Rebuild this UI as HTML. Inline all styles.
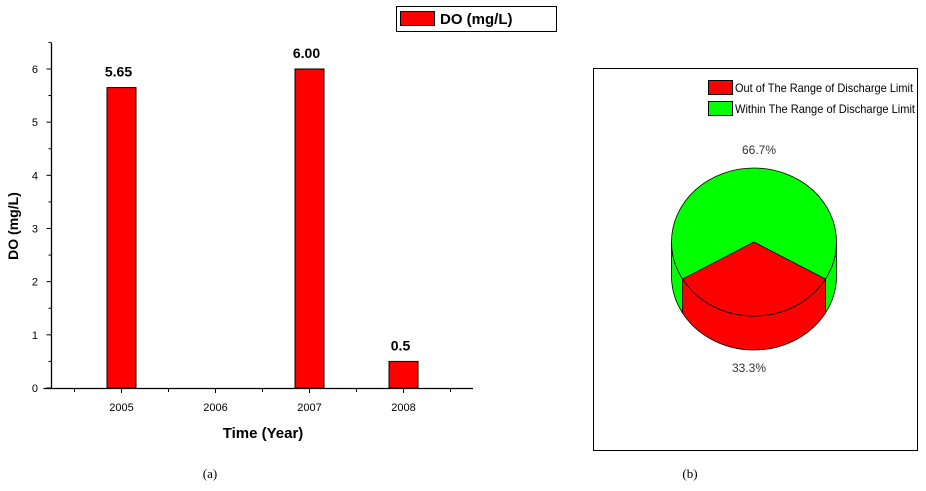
<!DOCTYPE html>
<html><head><meta charset="utf-8"><style>
body{margin:0;background:#fff;width:926px;height:486px;overflow:hidden}
text{font-family:"Liberation Sans",sans-serif}
</style></head><body>
<svg id="s" width="926" height="486">
<g>
<rect x="396.5" y="6.5" width="160" height="25" fill="#fff" stroke="#000"/>
<rect x="400.5" y="11.5" width="34" height="14" fill="#f00" stroke="#000"/>
<text x="440" y="24" font-size="15" font-weight="bold">DO (mg/L)</text>
</g>
<g id="bar"></g>
<text x="18" y="226" font-size="14" font-weight="bold" text-anchor="middle" transform="rotate(-90 18 226)">DO (mg/L)</text>
<text x="263" y="438" font-size="15" font-weight="bold" text-anchor="middle">Time (Year)</text>
<text x="210" y="478" font-size="13" style="font-family:'Liberation Serif',serif" text-anchor="middle">(a)</text>
<text x="690" y="478" font-size="13" style="font-family:'Liberation Serif',serif" text-anchor="middle">(b)</text>
<rect x="593.5" y="68.5" width="324" height="382" fill="none" stroke="#000"/>
<g>
<rect x="708.5" y="80.5" width="24" height="14" fill="#f00" stroke="#000"/>
<text x="735" y="92" font-size="12" textLength="178" lengthAdjust="spacingAndGlyphs">Out of The Range of Discharge Limit</text>
<rect x="708.5" y="101.5" width="24" height="14" fill="#0f0" stroke="#000"/>
<text x="735" y="113" font-size="12" textLength="180" lengthAdjust="spacingAndGlyphs">Within The Range of Discharge Limit</text>
</g>
<g id="pie"></g>
</svg>
<script>
const categories=["2005","2006","2007","2008"];
const values=[5.65,null,6.00,0.5];
const valueLabels=["5.65","","6.00","0.5"];
const yTicks=[0,1,2,3,4,5,6];
const pieLabels=["Out of The Range of Discharge Limit","Within The Range of Discharge Limit"];
const pieValues=[33.3,66.7];
const pieText=["33.3%","66.7%"];
const NS="http://www.w3.org/2000/svg";
function mk(p,t,a){const e=document.createElementNS(NS,t);for(const k in a)e.setAttribute(k,a[k]);p.appendChild(e);return e;}
const g=document.getElementById('bar');
const x0=51.5,y0=388,yTop=43,xEnd=473;
const ys=v=>y0-v*53.17;
const xs=i=>121.5+i*94;
mk(g,'line',{x1:x0,y1:yTop,x2:x0,y2:y0,stroke:'#000','stroke-width':1.3});
mk(g,'line',{x1:x0-8,y1:y0+0.5,x2:xEnd,y2:y0+0.5,stroke:'#000','stroke-width':1.3});
yTicks.forEach(v=>{
 const t=mk(g,'line',{x1:x0-5,y1:ys(v),x2:x0,y2:ys(v),stroke:'#000'});
 
 
 mk(g,'line',{x1:x0-3,y1:ys(v+0.5),x2:x0,y2:ys(v+0.5),stroke:'#000'});
 const l=mk(g,'text',{x:38,y:ys(v)+4,'font-size':11,'text-anchor':'end'});l.textContent=v;
 
 
});
categories.forEach((c,i)=>{
 const x=xs(i);
 mk(g,'line',{x1:x,y1:y0,x2:x,y2:y0+5,stroke:'#000'});
 mk(g,'line',{x1:x-47,y1:y0,x2:x-47,y2:y0+4,stroke:'#000'});
 if(i==categories.length-1)mk(g,'line',{x1:x+47,y1:y0,x2:x+47,y2:y0+4,stroke:'#000'});
 const l=mk(g,'text',{x:x,y:411,'font-size':11,'text-anchor':'middle'});l.textContent=c;
 
 
 if(values[i]!=null){
  const b=mk(g,'rect',{x:x-14.5,y:ys(values[i]),width:29,height:y0-ys(values[i]),fill:'#f00',stroke:'#000'});
  
  
  const v=mk(g,'text',{x:x-3,y:ys(values[i])-11,'font-size':14,'font-weight':'bold','text-anchor':'middle'});v.textContent=valueLabels[i];
  
  
 }
});
const p=document.getElementById('pie');
const cx=754,cy=242,rx=82.5,ry=74,d=34;
const tot=pieValues.reduce((a,b)=>a+b,0);
const redSpan=pieValues[0]/tot*360;
const a1=(90-redSpan/2)*Math.PI/180,a2=(90+redSpan/2)*Math.PI/180;
const pt=(a,dy)=>[cx+rx*Math.cos(a),cy+ry*Math.sin(a)+(dy||0)];
function side(s,e,fill,name){
 const A=pt(s),B=pt(e),C=pt(e,d),D=pt(s,d);
 const el=mk(p,'path',{d:`M${A}A${rx},${ry} 0 0 1 ${B}L${C}A${rx},${ry} 0 0 0 ${D}Z`,fill:fill,stroke:'#000','stroke-width':0.8});
 
 
}
side(0,a1,'#0f0','pie-side-within');
side(a2,Math.PI,'#0f0','pie-side-within');
side(a1,a2,'#f00','pie-side-out');
const pieTop=mk(p,'ellipse',{cx:cx,cy:cy,rx:rx,ry:ry,fill:'#0f0',stroke:'#000','stroke-width':0.8});


const P1=pt(a1),P2=pt(a2);
const w=mk(p,'path',{d:`M${cx},${cy}L${P1}A${rx},${ry} 0 0 1 ${P2}Z`,fill:'#f00',stroke:'#000','stroke-width':0.8});


const t1=mk(p,'text',{x:749,y:372,'font-size':12,'text-anchor':'middle',fill:'#333'});t1.textContent=pieText[0];


const t2=mk(p,'text',{x:759,y:154,'font-size':12,'text-anchor':'middle',fill:'#333'});t2.textContent=pieText[1];


</script>
</body></html>
